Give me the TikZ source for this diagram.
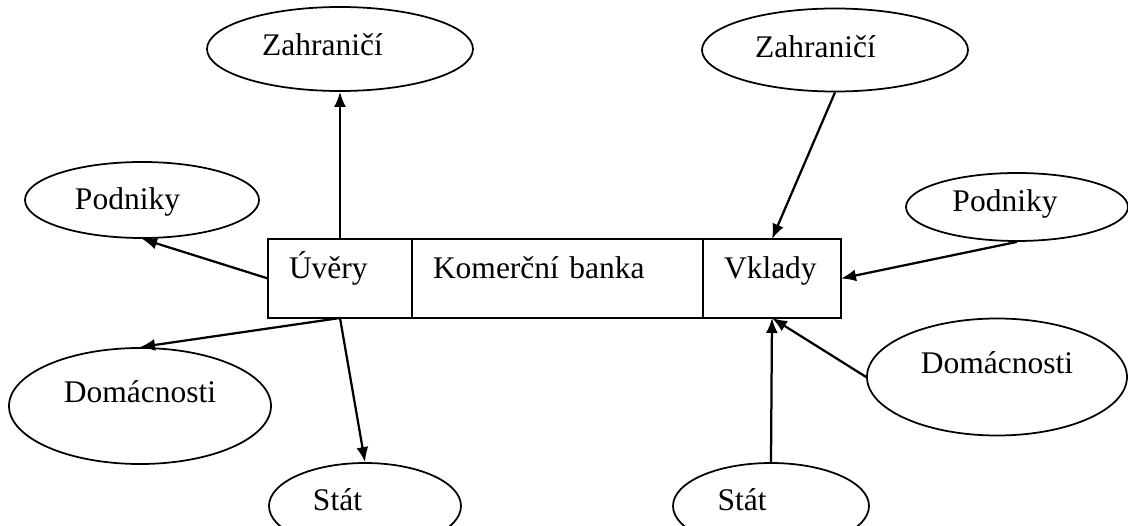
\documentclass[tikz,border=0pt]{standalone}
\usepackage{fontspec}
\setmainfont{Liberation Serif}
\usepackage{tikz}
\usetikzlibrary{positioning,shapes.geometric,arrows.meta}

\begin{document}
\begin{tikzpicture}[x=0.4pt, y=-0.4pt,
	font=\fontsize{12.6}{15}\selectfont,
	sphere/.style={draw=black, line width=0.7pt, ellipse, inner sep=0pt, text height=0.8em},
	cell/.style={draw=black, line width=0.8pt, rectangle, inner ysep=0pt, inner xsep=8.4pt, outer sep=0pt, minimum height=31.6pt, align=left, text height=0.8em, text depth=0.8em},
	flow/.style={draw=black, -{Latex[length=6pt, width=4.8pt]}, line width=0.9pt, solid}]
	\useasboundingbox (0,0) rectangle (1128,526);
	% banka
	\node[cell, text width=40.8pt] (uvery) at (340,278.5) {Úvěry};
	\node[cell, text width=99.6pt, right=0pt of uvery] (banka) {Komerční banka};
	\node[cell, text width=38.4pt, right=0pt of banka] (vklady) {Vklady};
	% sektory
	\node[sphere, minimum width=106.4pt, minimum height=33.6pt, text depth=0.3em] (zl) at (340,49) {Zahraničí\kern14pt};
	\node[sphere, minimum width=93.6pt, minimum height=30.4pt, text depth=0.07em] (pl) at (142,200) {Podniky\kern11.6pt};
	\node[sphere, minimum width=104.8pt, minimum height=46.4pt, text depth=1.06em] (dl) at (140,406) {Domácnosti};
	\node[sphere, minimum width=76.8pt, minimum height=34.4pt, text depth=0.42em] (sl) at (365,506) {Stát\kern22pt};
	\node[sphere, minimum width=106.4pt, minimum height=33.2pt, text depth=0.16em] (zr) at (835,50) {Zahraničí\kern15.6pt};
	\node[sphere, minimum width=88.8pt, minimum height=27.2pt, text depth=0.42em] (pr) at (1017,207) {Podniky\kern9.6pt};
	\node[sphere, minimum width=104pt, minimum height=46.8pt, text depth=1.06em] (dr) at (997,377) {Domácnosti};
	\node[sphere, minimum width=78.4pt, minimum height=34.4pt, text depth=0.42em] (sr) at (771,506) {Stát\kern23.2pt};
	% uvery
	\draw[flow] (uvery.north) -- (zl.south);
	\draw[flow] (uvery.west) -- (pl.south);
	\draw[flow] (uvery.south) -- (dl.north);
	\draw[flow] (uvery.south) -- (sl.north);
	% vklady
	\draw[flow] (zr.south) -- (vklady.north);
	\draw[flow] (pr.south) -- (vklady.east);
	\draw[flow] (dr.west) -- (vklady.south);
	\draw[flow] (sr.north) -- (vklady.south);
\end{tikzpicture}
\end{document}
